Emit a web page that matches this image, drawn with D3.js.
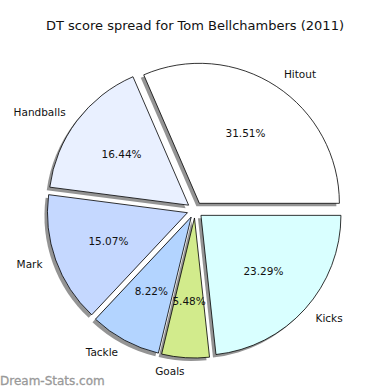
<!DOCTYPE html>
<html>
<head>
<meta charset="utf-8">
<script src="https://cdn.jsdelivr.net/npm/d3@7"></script>
<style>
  body { margin: 0; background: #fff; }
  svg { display: block; font-family: "DejaVu Sans", sans-serif; }
</style>
</head>
<body>
<div id="chart"></div>
<script>
// Data
var categories = ["Hitout", "Handballs", "Mark", "Tackle", "Goals", "Kicks"];
var shares = [31.51, 16.44, 15.07, 8.22, 5.48, 23.29];
var colors = ["#ffffff", "#e9f0ff", "#c5d8ff", "#b3d4ff", "#d2eb8c", "#d9ffff"];

var width = 390, height = 390;
var center = { x: 195, y: 210 };
var radius = 140;
var explode = 8;      // px, every slice pulled out
var shadowOff = 3;    // shadow shifted left/down

var svg = d3.select("#chart").append("svg")
    .attr("width", width)
    .attr("height", height);

// Title
svg.append("text")
    .attr("x", 195)
    .attr("y", 30)
    .attr("text-anchor", "middle")
    .style("font-size", "13px")
    .style("fill", "#111")
    .text("DT score spread for Tom Bellchambers (2011)");

// Pie starts at 3 o'clock and runs counterclockwise (like matplotlib)
var pie = d3.pie()
    .sort(null)
    .startAngle(Math.PI / 2)
    .endAngle(Math.PI / 2 - 2 * Math.PI)
    .value(function(d) { return d.value; });

var rows = categories.map(function(c, i) {
  return { name: c, value: shares[i], color: colors[i] };
});
var arcs = pie(rows);

var arc = d3.arc().innerRadius(0).outerRadius(radius);

function mid(d) { return (d.startAngle + d.endAngle) / 2; }
function offset(d, dist) {
  var a = mid(d);
  return [Math.sin(a) * dist, -Math.cos(a) * dist];
}

var g = svg.append("g")
    .attr("transform", "translate(" + center.x + "," + center.y + ")");

// Shadows first, under every wedge
g.selectAll("path.shadow")
    .data(arcs)
  .enter().append("path")
    .attr("class", "shadow")
    .attr("d", arc)
    .attr("transform", function(d) {
      var o = offset(d, explode);
      return "translate(" + (o[0] - shadowOff) + "," + (o[1] + shadowOff) + ")";
    })
    .style("fill", "#000")
    .style("fill-opacity", 0.42);

g.selectAll("path.wedge")
    .data(arcs)
  .enter().append("path")
    .attr("class", "wedge")
    .attr("d", arc)
    .attr("transform", function(d) {
      var o = offset(d, explode);
      return "translate(" + o[0] + "," + o[1] + ")";
    })
    .style("fill", function(d) { return d.data.color; })
    .style("stroke", "#000")
    .style("stroke-width", 0.8)
    .style("stroke-linejoin", "round");

// Category labels outside
g.selectAll("text.label")
    .data(arcs)
  .enter().append("text")
    .attr("class", "label")
    .attr("x", function(d) { return offset(d, explode + radius * 1.1)[0]; })
    .attr("y", function(d) { return offset(d, explode + radius * 1.1)[1]; })
    .attr("dy", "0.35em")
    .attr("text-anchor", function(d) { return Math.sin(mid(d)) > 0 ? "start" : "end"; })
    .style("font-size", "10.5px")
    .style("fill", "#111")
    .text(function(d) { return d.data.name; });

// Percentages inside
g.selectAll("text.pct")
    .data(arcs)
  .enter().append("text")
    .attr("class", "pct")
    .attr("x", function(d) { return offset(d, explode + radius * 0.6)[0]; })
    .attr("y", function(d) { return offset(d, explode + radius * 0.6)[1]; })
    .attr("dy", "0.35em")
    .attr("text-anchor", "middle")
    .style("font-size", "10.5px")
    .style("fill", "#111")
    .text(function(d) { return d.data.value.toFixed(2) + "%"; });

// Watermark
svg.append("text")
    .attr("x", 0)
    .attr("y", 385)
    .style("font-size", "12px")
    .style("fill", "#999")
    .style("stroke", "#999")
    .style("stroke-width", 0.3)
    .text("Dream-Stats.com");
</script>
</body>
</html>
